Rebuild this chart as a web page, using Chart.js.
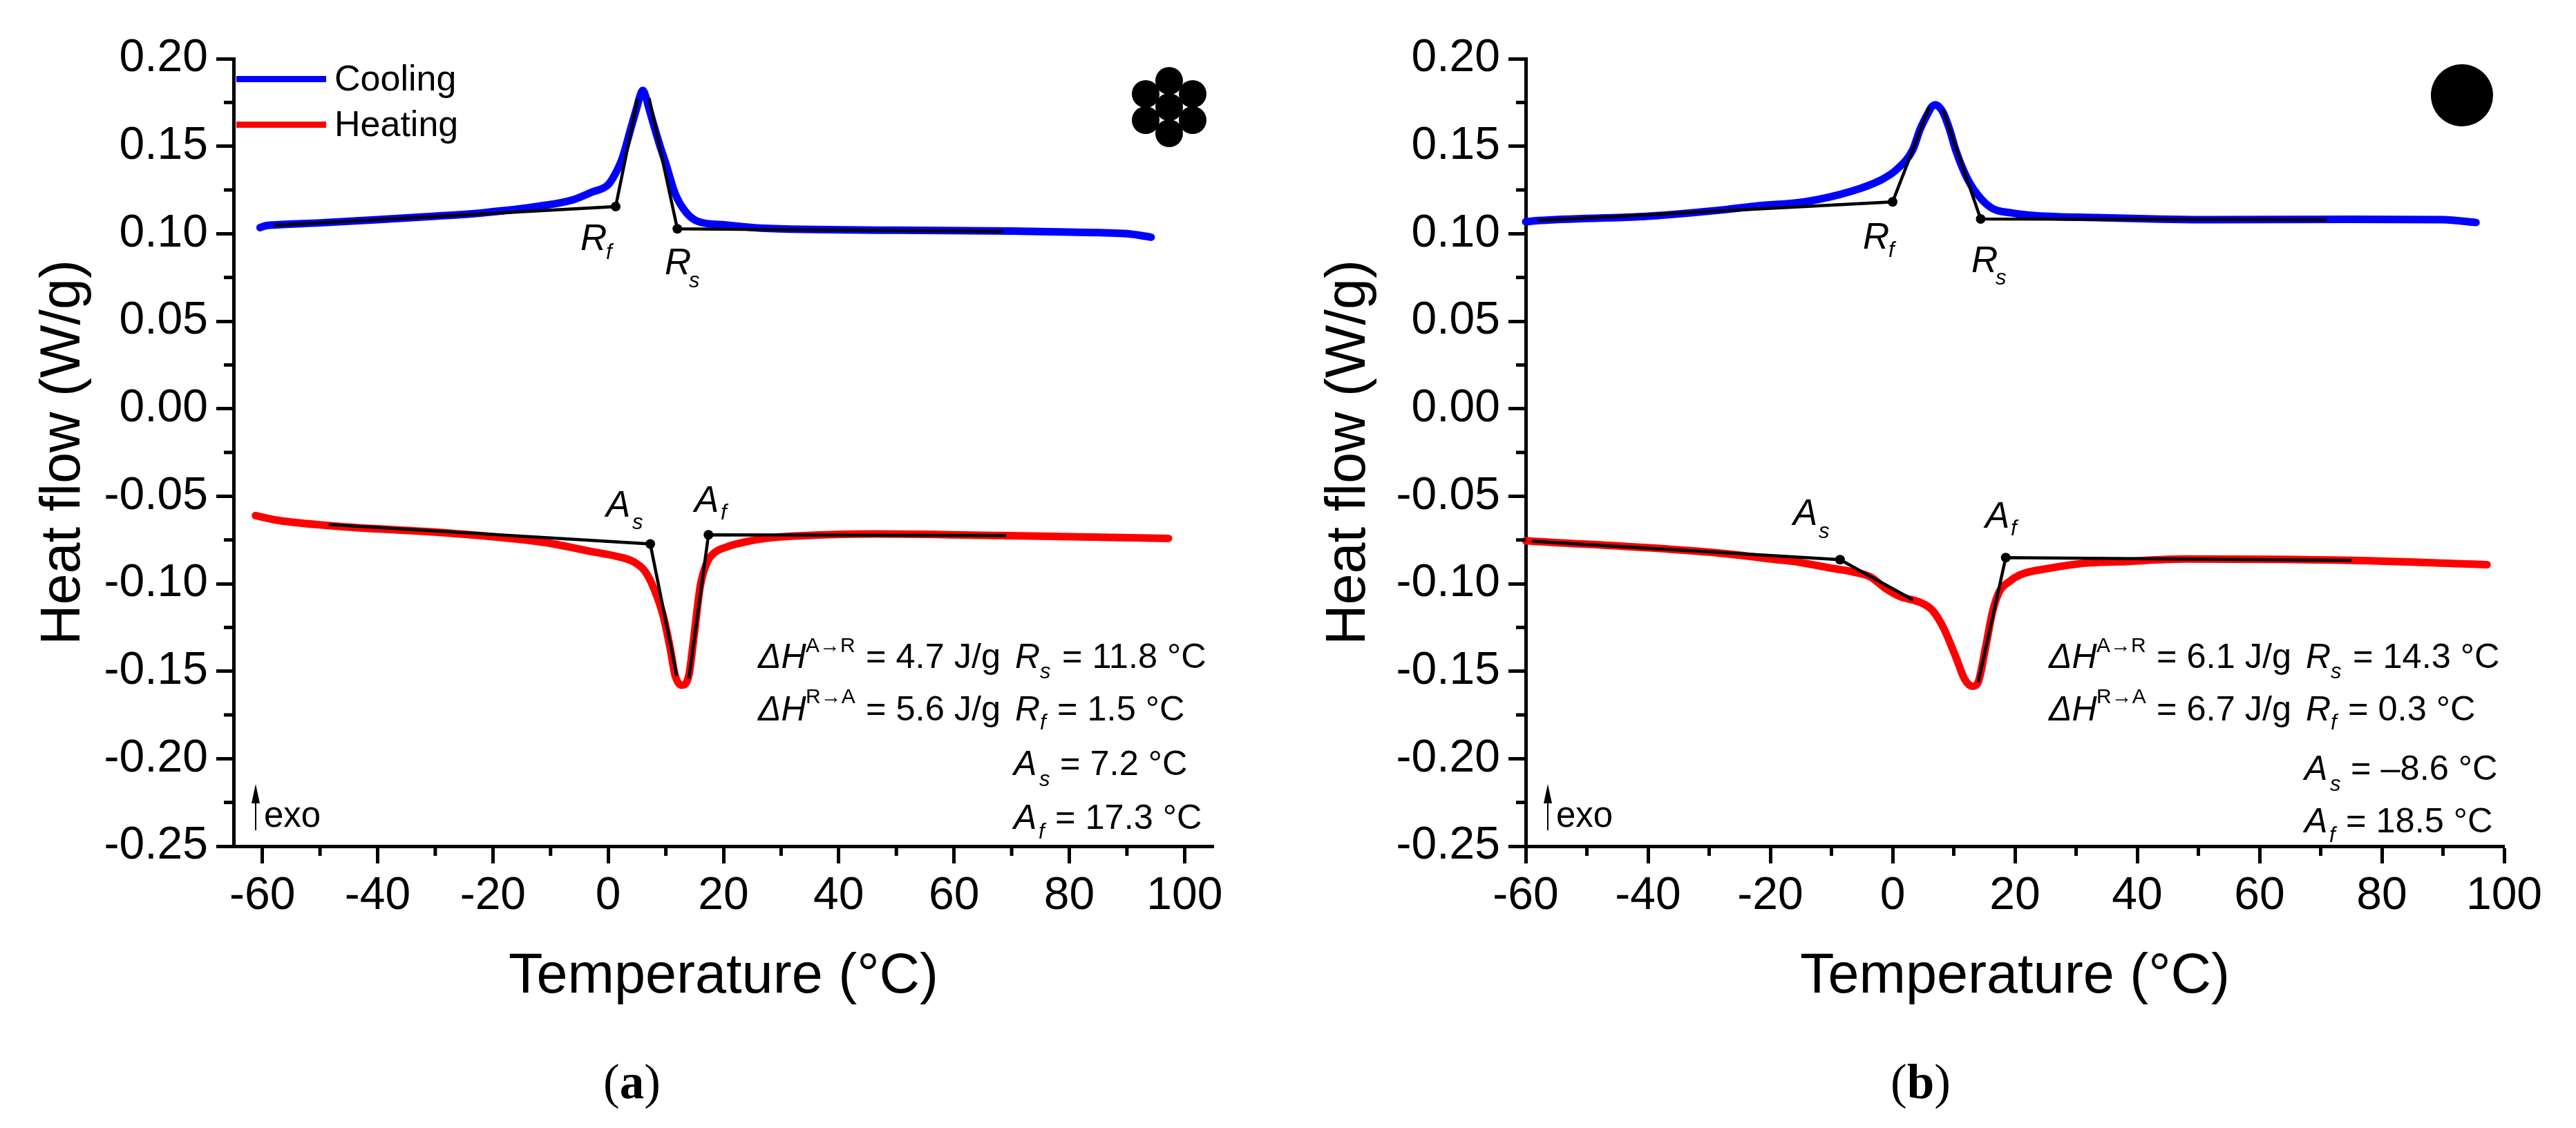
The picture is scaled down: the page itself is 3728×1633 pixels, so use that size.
<!DOCTYPE html>
<html>
<head>
<meta charset="utf-8">
<title>Heat flow vs temperature</title>
<script src="https://cdn.jsdelivr.net/npm/chart.js@4"></script>
<style>
    html, body { margin: 0; padding: 0; background: #fff; }
    body { width: 3728px; height: 1633px; position: relative; overflow: hidden; }
    canvas { position: absolute; top: 0; }
    #chart-a { left: 0; }
    #chart-b { left: 1860px; }
</style>
</head>
<body>
<canvas id="chart-a" width="1860" height="1633"></canvas>
<canvas id="chart-b" width="1868" height="1633"></canvas>
<script>
// tick labels
const xTicks = [-60, -40, -20, 0, 20, 40, 60, 80, 100];
const xMinorTicks = [-50, -30, -10, 10, 30, 50, 70, 90];
const yTicks = [0.20, 0.15, 0.10, 0.05, 0.00, -0.05, -0.10, -0.15, -0.20, -0.25];
const yMinorTicks = [0.175, 0.125, 0.075, 0.025, -0.025, -0.075, -0.125, -0.175, -0.225];

// panel a - cooling curve
const coolTempA = [-60.4, -59.5, -58, -50, -40, -30, -21.6, -11.6, -6, -2.8, 0, 1.2, 2.4, 4, 5, 5.5, 6, 6.5, 7, 8, 9, 10, 11.6, 13.5, 15.6, 20.4, 26.4, 50, 70, 80, 90, 94.2];
const coolFlowA = [0.1035, 0.1045, 0.105, 0.1062, 0.108, 0.110, 0.112, 0.1159, 0.1195, 0.1238, 0.128, 0.134, 0.1427, 0.161, 0.1725, 0.1785, 0.1818, 0.1785, 0.1725, 0.161, 0.150, 0.140, 0.123, 0.1123, 0.107, 0.105, 0.1032, 0.102, 0.1015, 0.1009, 0.100, 0.098];
// panel a - heating curve
const heatTempA = [-61.2, -57.3, -47.7, -28.4, -16, -9.6, -3.6, 1.5, 4.4, 6.4, 8, 9.6, 10.8, 11.6, 12.8, 14, 14.8, 16, 17.2, 18.4, 20.4, 24.4, 28.5, 34.5, 38.4, 46, 67.9, 97.2];
const heatFlowA = [-0.0611, -0.0638, -0.067, -0.0709, -0.0745, -0.0772, -0.0812, -0.0844, -0.0875, -0.093, -0.1033, -0.119, -0.1377, -0.1523, -0.158, -0.1523, -0.1325, -0.101, -0.0875, -0.0824, -0.0792, -0.0757, -0.0737, -0.0725, -0.072, -0.0716, -0.0725, -0.0741];
// panel a - tangents, the middle point is the one with the dot
const rfTempA = [-58, 1.3, 5.1];
const rfFlowA = [0.1048, 0.1155, 0.177];
const rsTempA = [7.1, 12, 68.6];
const rsFlowA = [0.1775, 0.1028, 0.1013];
const asTempA = [-48.5, 7.3, 11.9];
const asFlowA = [-0.0662, -0.0773, -0.1527];
const afTempA = [14.0, 17.4, 69];
const afFlowA = [-0.1543, -0.0721, -0.0725];

// panel b - cooling curve
const coolTempB = [-60, -58, -40, -27, -22, -14.4, -6.8, -1.8, 0.7, 3.3, 4.5, 5.8, 6.4, 7, 7.6, 8.3, 9.3, 10.3, 12.3, 14.4, 16.4, 19.4, 23.4, 33.6, 52, 75, 90, 95.4];
const coolFlowB = [0.1068, 0.1075, 0.110, 0.1139, 0.1159, 0.1182, 0.1242, 0.1309, 0.1368, 0.148, 0.1597, 0.169, 0.1725, 0.1737, 0.1725, 0.169, 0.1597, 0.148, 0.1309, 0.1202, 0.1143, 0.1119, 0.1103, 0.1092, 0.108, 0.1082, 0.108, 0.1064];
// panel b - heating curve
const heatTempB = [-60, -59, -28.6, -18.3, -15.7, -10.1, -6.3, -3.6, -1.4, 1.2, 4.6, 6.5, 8.4, 10.3, 11.8, 13.1, 14, 15.2, 16.3, 17.4, 19, 20.8, 25.8, 31.4, 37, 47.9, 75.1, 97.2];
const heatFlowB = [-0.0755, -0.0757, -0.0824, -0.0865, -0.0875, -0.0911, -0.0934, -0.0962, -0.1021, -0.1073, -0.1108, -0.1152, -0.1258, -0.1416, -0.1547, -0.1586, -0.1562, -0.1365, -0.1167, -0.1049, -0.099, -0.095, -0.0911, -0.0883, -0.0875, -0.0859, -0.0867, -0.0891];
// panel b - tangents
const rfTempB = [-58, 0, 6];
const rfFlowB = [0.1075, 0.1182, 0.1724];
const rsTempB = [8.2, 14.4, 71];
const rsFlowB = [0.1712, 0.1084, 0.108];
const asTempB = [-59, -8.6, 3.3];
const asFlowB = [-0.0757, -0.0863, -0.1092];
const afTempB = [14, 18.5, 75];
const afFlowB = [-0.1562, -0.0851, -0.0867];

// text in the corner of each panel
const enthalpyA = ["4.7", "5.6"];
const enthalpyB = ["6.1", "6.7"];
const transTempA = ["11.8", "1.5", "7.2", "17.3"];
const transTempB = ["14.3", "0.3", "\u20138.6", "18.5"];

const FONT = '"Liberation Sans"';

function points(xs, ys) {
    return xs.map((x, i) => ({ x: x, y: ys[i] }));
}

function curve(label, xs, ys, color) {
    return {
        label: label,
        data: points(xs, ys),
        showLine: true,
        borderColor: color,
        backgroundColor: color,
        borderWidth: 11,
        borderCapStyle: 'round',
        borderJoinStyle: 'round',
        pointRadius: 0,
        cubicInterpolationMode: 'monotone',
        clip: false,
        order: 2
    };
}

function tangent(xs, ys) {
    return {
        data: points(xs, ys),
        showLine: true,
        borderColor: '#000',
        backgroundColor: '#000',
        borderWidth: 4.5,
        tension: 0,
        pointRadius: [0, 7, 0],
        pointBackgroundColor: '#000',
        pointBorderWidth: 0,
        clip: false,
        order: 1
    };
}

function write(ctx, str, x, y, size, style) {
    ctx.font = (style || '') + ' ' + size + 'px ' + FONT;
    ctx.textAlign = 'left';
    ctx.textBaseline = 'alphabetic';
    ctx.fillStyle = '#000';
    ctx.fillText(str, x, y);
}

// letter with italic subscript, e.g. R_f
function symbol(ctx, letter, sub, x, y, subX, subY, size) {
    write(ctx, letter, x, y, size, 'italic');
    write(ctx, sub, subX, subY, 31, 'italic');
}

// minor ticks, Chart.js has no option for them
const minorTicks = {
    id: 'minorTicks',
    afterDraw(chart) {
        const ctx = chart.ctx, sx = chart.scales.x, sy = chart.scales.y;
        const area = chart.chartArea;
        ctx.save();
        ctx.strokeStyle = '#000';
        ctx.lineWidth = 5;
        xMinorTicks.forEach(v => {
            const px = sx.getPixelForValue(v);
            ctx.beginPath();
            ctx.moveTo(px, area.bottom);
            ctx.lineTo(px, area.bottom + 14);
            ctx.stroke();
        });
        yMinorTicks.forEach(v => {
            const py = sy.getPixelForValue(v);
            ctx.beginPath();
            ctx.moveTo(area.left, py);
            ctx.lineTo(area.left - 14, py);
            ctx.stroke();
        });
        ctx.restore();
    }
};

function drawExo(ctx, x) {
    ctx.strokeStyle = '#000';
    ctx.fillStyle = '#000';
    ctx.lineWidth = 2;
    ctx.beginPath();
    ctx.moveTo(x, 1155);
    ctx.lineTo(x, 1202);
    ctx.stroke();
    ctx.beginPath();
    ctx.moveTo(x, 1135);
    ctx.lineTo(x - 6, 1163);
    ctx.lineTo(x + 6, 1163);
    ctx.closePath();
    ctx.fill();
    write(ctx, 'exo', x + 12, 1197, 51);
}

function drawStats(ctx, x0, enthalpy, temps, y3, y4) {
    const rx = x0 + 372;
    write(ctx, '\u0394H', x0, 967, 50, 'italic');
    write(ctx, 'A\u2192R', x0 + 69, 944, 30);
    write(ctx, '= ' + enthalpy[0] + ' J/g', x0 + 156, 967, 50.5);
    symbol(ctx, 'R', 's', rx, 967, rx + 36, 982, 50);
    write(ctx, '= ' + temps[0] + ' \u00B0C', rx + 68, 967, 50.5);

    write(ctx, '\u0394H', x0, 1043, 50, 'italic');
    write(ctx, 'R\u2192A', x0 + 69, 1018, 30);
    write(ctx, '= ' + enthalpy[1] + ' J/g', x0 + 156, 1043, 50.5);
    symbol(ctx, 'R', 'f', rx, 1043, rx + 36, 1056, 50);
    write(ctx, '= ' + temps[1] + ' \u00B0C', rx + 61, 1043, 50.5);

    symbol(ctx, 'A', 's', rx - 2, y3, rx + 35, y3 + 16, 50);
    write(ctx, '= ' + temps[2] + ' \u00B0C', rx + 65, y3, 50.5);
    symbol(ctx, 'A', 'f', rx - 2, y4, rx + 34, y4 + 14, 50);
    write(ctx, '= ' + temps[3] + ' \u00B0C', rx + 58, y4, 50.5);
}

function drawCaption(ctx, x, letter) {
    const y = 1590;
    ctx.fillStyle = '#000';
    ctx.textAlign = 'left';
    ctx.font = '71px "Liberation Serif"';
    ctx.fillText('(', x, y);
    const w1 = ctx.measureText('(').width;
    ctx.font = 'bold 71px "Liberation Serif"';
    ctx.fillText(letter, x + w1, y);
    const w2 = ctx.measureText(letter).width;
    ctx.font = '71px "Liberation Serif"';
    ctx.fillText(')', x + w1 + w2, y);
}

const overlayA = {
    id: 'overlayA',
    afterDraw(chart) {
        const ctx = chart.ctx;
        ctx.save();
        // legend
        ctx.fillStyle = '#0000ff';
        ctx.fillRect(342, 110, 130, 9);
        ctx.fillStyle = '#ff0000';
        ctx.fillRect(342, 176, 130, 9);
        write(ctx, 'Cooling', 484, 131, 52);
        write(ctx, 'Heating', 484, 197, 52);
        // strand bundle icon
        ctx.fillStyle = '#000';
        [[0, 0], [0, -38], [0, 38], [-34, -19], [-34, 19], [34, -19], [34, 19]].forEach(c => {
            ctx.beginPath();
            ctx.arc(1692 + c[0], 155 + c[1], 20, 0, Math.PI * 2);
            ctx.fill();
        });
        symbol(ctx, 'R', 'f', 840, 362, 877, 375, 53);
        symbol(ctx, 'R', 's', 962, 397, 997, 416, 53);
        symbol(ctx, 'A', 's', 877, 748, 915, 766, 53);
        symbol(ctx, 'A', 'f', 1005, 741, 1043, 752, 53);
        drawExo(ctx, 370);
        drawStats(ctx, 1097, enthalpyA, transTempA, 1122, 1200);
        drawCaption(ctx, 873, 'a');
        ctx.restore();
    }
};

const overlayB = {
    id: 'overlayB',
    afterDraw(chart) {
        const ctx = chart.ctx;
        ctx.save();
        ctx.translate(-1860, 0);
        ctx.fillStyle = '#000';
        ctx.beginPath();
        ctx.arc(3563, 138, 45, 0, Math.PI * 2);
        ctx.fill();
        symbol(ctx, 'R', 'f', 2696, 360, 2733, 372, 53);
        symbol(ctx, 'R', 's', 2853, 394, 2888, 412, 53);
        symbol(ctx, 'A', 's', 2595, 760, 2632, 779, 53);
        symbol(ctx, 'A', 'f', 2873, 764, 2910, 775, 53);
        drawExo(ctx, 2240);
        drawStats(ctx, 2965, enthalpyB, transTempB, 1129, 1205);
        drawCaption(ctx, 2736, 'b');
        ctx.restore();
    }
};

function makeChart(id, datasets, xMin, xMax, padLeft, yWidth, overlay) {
    new Chart(document.getElementById(id).getContext('2d'), {
        type: 'scatter',
        data: { datasets: datasets },
        plugins: [minorTicks, overlay],
        options: {
            responsive: false,
            animation: false,
            devicePixelRatio: 1,
            layout: { padding: { left: padLeft, right: 104, top: 85, bottom: 158 } },
            plugins: { legend: { display: false }, tooltip: { enabled: false } },
            scales: {
                x: {
                    type: 'linear',
                    min: xMin,
                    max: xMax,
                    afterBuildTicks: scale => { scale.ticks = xTicks.map(v => ({ value: v })); },
                    afterFit: scale => { scale.height = 250; },
                    border: { display: true, color: '#000', width: 5 },
                    grid: { drawOnChartArea: false, drawTicks: true, tickLength: 25, tickWidth: 5, tickColor: '#000' },
                    ticks: {
                        autoSkip: false,
                        maxRotation: 0,
                        padding: 8,
                        color: '#000',
                        font: { family: FONT, size: 66 },
                        callback: v => String(v)
                    },
                    title: {
                        display: true,
                        text: 'Temperature (\u00B0C)',
                        color: '#000',
                        font: { family: FONT, size: 81 },
                        padding: { top: 0, bottom: 12 }
                    }
                },
                y: {
                    type: 'linear',
                    min: -0.25,
                    max: 0.20,
                    afterBuildTicks: scale => { scale.ticks = yTicks.map(v => ({ value: v })); },
                    afterFit: scale => { scale.width = yWidth; },
                    border: { display: true, color: '#000', width: 5 },
                    grid: { drawOnChartArea: false, drawTicks: true, tickLength: 25, tickWidth: 5, tickColor: '#000' },
                    ticks: {
                        padding: 12,
                        color: '#000',
                        font: { family: FONT, size: 66 },
                        callback: v => v.toFixed(2)
                    },
                    title: {
                        display: true,
                        text: 'Heat flow (W/g)',
                        color: '#000',
                        font: { family: FONT, size: 81 },
                        padding: { top: 44, bottom: 0 }
                    }
                }
            }
        }
    });
}

makeChart('chart-a', [
    tangent(rfTempA, rfFlowA),
    tangent(rsTempA, rsFlowA),
    tangent(asTempA, asFlowA),
    tangent(afTempA, afFlowA),
    curve('Cooling', coolTempA, coolFlowA, '#0000ff'),
    curve('Heating', heatTempA, heatFlowA, '#ff0000')
], -65, 105, 0, 338, overlayA);

makeChart('chart-b', [
    tangent(rfTempB, rfFlowB),
    tangent(rsTempB, rsFlowB),
    tangent(asTempB, asFlowB),
    tangent(afTempB, afFlowB),
    curve('Cooling', coolTempB, coolFlowB, '#0000ff'),
    curve('Heating', heatTempB, heatFlowB, '#ff0000')
], -60, 100, 0, 348, overlayB);
</script>
</body>
</html>
